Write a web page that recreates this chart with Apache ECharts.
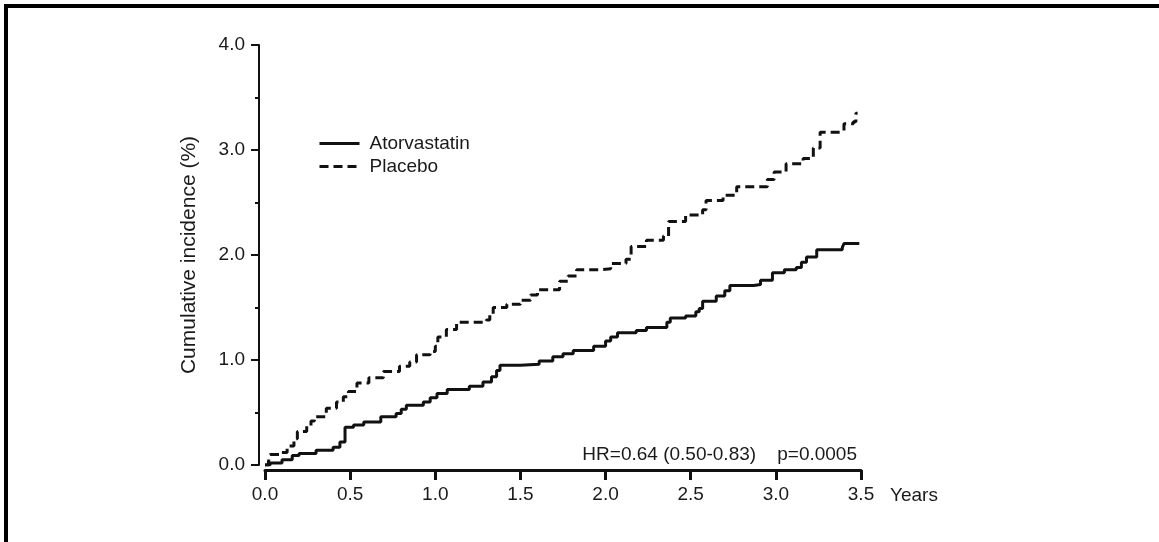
<!DOCTYPE html>
<html>
<head>
<meta charset="utf-8">
<script src="https://cdn.jsdelivr.net/npm/echarts@6/dist/echarts.min.js"></script>
<style>
html,body{margin:0;padding:0;background:#fff;}
#chart{width:1159px;height:542px;}
</style>
</head>
<body>
<div id="chart"></div>
<script>
const seriesNames = ['Atorvastatin', 'Placebo'];
const xTicks = ['0.0','0.5','1.0','1.5','2.0','2.5','3.0','3.5'];
const yTicks = ['0.0','1.0','2.0','3.0','4.0'];

const atorTimes = [0,0.03,0.1,0.16,0.2,0.3,0.4,0.44,0.47,0.52,0.58,0.68,0.77,0.8,0.83,0.93,0.97,1.01,1.07,1.2,1.28,1.33,1.36,1.38,1.5,1.61,1.69,1.75,1.81,1.93,2.0,2.03,2.07,2.18,2.24,2.36,2.38,2.47,2.53,2.55,2.57,2.65,2.7,2.73,2.87,2.91,2.98,3.05,3.12,3.15,3.18,3.24,3.39,3.4,3.49];
const atorValues = [0,0.02,0.05,0.09,0.11,0.14,0.17,0.22,0.36,0.38,0.41,0.46,0.49,0.53,0.57,0.6,0.64,0.68,0.72,0.75,0.79,0.84,0.9,0.95,0.96,0.99,1.03,1.06,1.09,1.13,1.18,1.22,1.26,1.28,1.31,1.36,1.4,1.42,1.46,1.49,1.56,1.61,1.66,1.71,1.72,1.76,1.83,1.86,1.88,1.93,1.98,2.05,2.07,2.11,2.11];

const placeboTimes = [0,0.02,0.03,0.09,0.13,0.17,0.19,0.245,0.27,0.29,0.36,0.42,0.46,0.49,0.54,0.61,0.695,0.79,0.85,0.89,0.97,1.0,1.015,1.065,1.125,1.3,1.32,1.34,1.42,1.5,1.56,1.6,1.73,1.78,1.83,1.97,2.03,2.12,2.15,2.24,2.34,2.37,2.47,2.57,2.59,2.69,2.77,2.95,2.99,3.06,3.16,3.22,3.26,3.38,3.4,3.455,3.47,3.48];
const placeboValues = [0,0.03,0.1,0.12,0.18,0.25,0.32,0.37,0.42,0.46,0.54,0.6,0.65,0.7,0.78,0.83,0.89,0.94,0.98,1.05,1.08,1.13,1.22,1.29,1.36,1.38,1.44,1.5,1.53,1.57,1.62,1.67,1.75,1.8,1.86,1.87,1.92,1.96,2.08,2.14,2.18,2.32,2.38,2.43,2.52,2.57,2.65,2.72,2.79,2.87,2.92,3.02,3.17,3.18,3.25,3.27,3.35,3.35];

const statText = 'HR=0.64 (0.50-0.83)    p=0.0005';
const xName = 'Years';
const yName = 'Cumulative incidence (%)';

const zip = (t, v) => t.map((x, i) => [x, v[i]]);
const FONT = '"Liberation Sans", Arial, sans-serif';
const INK = '#111';
const TXT = '#1a1a1a';

const chart = echarts.init(document.getElementById('chart'), null, {renderer: 'canvas'});
chart.setOption({
  backgroundColor: '#fff',
  animation: false,
  grid: {left: 265, right: 298, top: 45, bottom: 77, containLabel: false},
  legend: {
    orient: 'vertical',
    left: 313, top: 129,
    itemWidth: 40, itemHeight: 12, itemGap: 4,
    data: seriesNames,
    itemStyle: {opacity: 0},
    lineStyle: {width: 3, color: INK},
    textStyle: {fontFamily: FONT, fontSize: 19, color: TXT, padding: [0,0,0,5]}
  },
  xAxis: {
    type: 'value', min: 0, max: 3.5, interval: 0.5,
    offset: 5,
    name: xName, nameLocation: 'end', nameGap: 29,
    nameTextStyle: {fontFamily: FONT, fontSize: 19, color: TXT, verticalAlign: 'top', padding: [16,0,0,0]},
    axisLine: {show: true, onZero: false, lineStyle: {color: INK, width: 3}},
    axisTick: {show: true, length: 10, lineStyle: {color: INK, width: 3}},
    axisLabel: {fontFamily: FONT, fontSize: 19, color: TXT, margin: 15,
      formatter: v => xTicks[Math.round(v / 0.5)]},
    splitLine: {show: false}
  },
  yAxis: {
    type: 'value', min: 0, max: 4, interval: 1,
    offset: 6,
    name: yName, nameLocation: 'middle', nameGap: 59,
    nameTextStyle: {fontFamily: FONT, fontSize: 21, color: TXT},
    axisLine: {show: true, onZero: false, lineStyle: {color: INK, width: 2}},
    axisTick: {show: true, length: 8, lineStyle: {color: INK, width: 2}},
    minorTick: {show: true, splitNumber: 2, length: 4, lineStyle: {color: INK, width: 2}},
    axisLabel: {fontFamily: FONT, fontSize: 19, color: TXT, margin: 14,
      formatter: v => yTicks[Math.round(v)]},
    splitLine: {show: false}
  },
  series: [
    {
      name: seriesNames[0], type: 'line', step: 'end', showSymbol: false, symbol: 'none',
      data: zip(atorTimes, atorValues),
      lineStyle: {color: INK, width: 3, type: 'solid'},
      itemStyle: {color: INK}
    },
    {
      name: seriesNames[1], type: 'line', step: 'end', showSymbol: false, symbol: 'none',
      data: zip(placeboTimes, placeboValues),
      lineStyle: {color: INK, width: 3, type: [9, 5]},
      itemStyle: {color: INK}
    }
  ],
  graphic: [
    {type: 'rect', shape: {x: 4, y: 4, width: 1155, height: 4}, style: {fill: '#000'}, silent: true},
    {type: 'rect', shape: {x: 4, y: 4, width: 4, height: 538}, style: {fill: '#000'}, silent: true},
    {type: 'text', right: 1159 - 857, top: 445,
      style: {text: statText, font: '19px "Liberation Sans", Arial, sans-serif', fill: TXT}}
  ]
});
</script>
</body>
</html>
